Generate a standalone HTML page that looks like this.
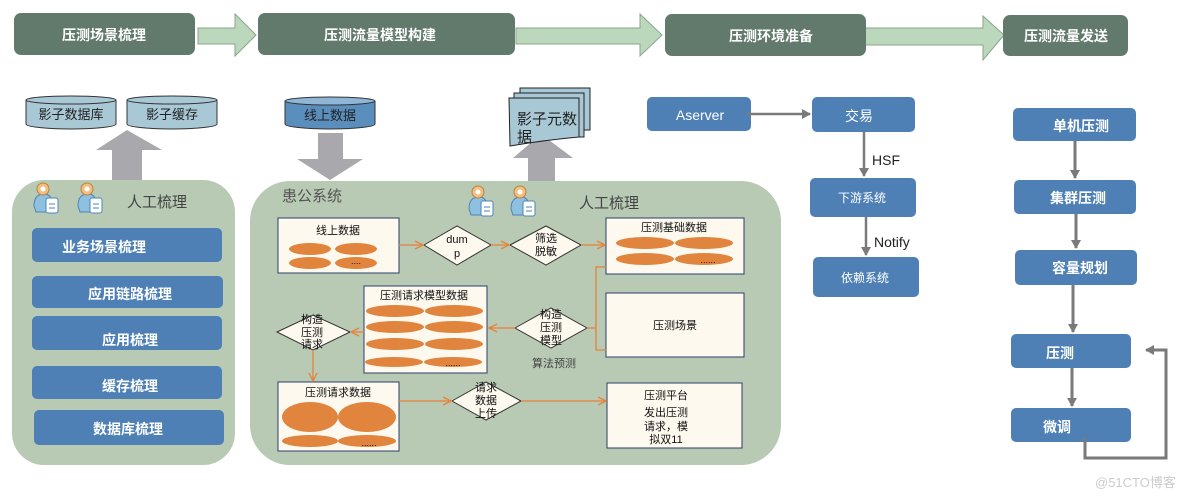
<!DOCTYPE html>
<html><head><meta charset="utf-8"><style>
html,body{margin:0;padding:0;background:#fff;width:1191px;height:498px;overflow:hidden}
svg{display:block;font-family:"Liberation Sans","Noto Sans CJK SC",sans-serif}
</style></head><body>
<svg width="1191" height="498" viewBox="0 0 1191 498" xmlns="http://www.w3.org/2000/svg">
<defs>
<marker id="og" markerWidth="10" markerHeight="10" refX="9" refY="5" orient="auto" markerUnits="userSpaceOnUse"><path d="M1,1 L9,5 L1,9" fill="none" stroke="#e8823a" stroke-width="1.3"/></marker>
<marker id="gy" markerWidth="10" markerHeight="10" refX="8" refY="5" orient="auto" markerUnits="userSpaceOnUse"><path d="M0,0 L9,5 L0,10 z" fill="#7a7a7a"/></marker>
<g id="person">
<path d="M2,24 Q2,12 12,12 Q20,12 20,22 L20,30 L4,30 Z" fill="#8fc0e0" stroke="#4a86b8" stroke-width="1"/>
<circle cx="11" cy="7" r="6" fill="#f0c080" stroke="#c08040"/>
<circle cx="11" cy="7" r="2.5" fill="#fff"/>
<rect x="14" y="16" width="12" height="15" rx="2" fill="#fff" stroke="#4a86b8"/>
<line x1="17" y1="22" x2="23" y2="22" stroke="#4a86b8"/><line x1="17" y1="26" x2="23" y2="26" stroke="#4a86b8"/>
</g>
</defs>

<!-- top banners -->
<polygon points="198,28 235,28 235,14 256,35 235,56 235,44 198,44" fill="#bcd8bc" stroke="#8aa68a"/>
<polygon points="516,28 640,28 640,14 662,35 640,56 640,44 516,44" fill="#bcd8bc" stroke="#8aa68a"/>
<polygon points="862,28 983,28 983,16 1004,35 983,60 983,45 862,45" fill="#bcd8bc" stroke="#8aa68a"/>
<rect x="14" y="13" width="181" height="42" rx="7" fill="#627a6c"/>
<rect x="258" y="13" width="257" height="42" rx="7" fill="#627a6c"/>
<rect x="665" y="14" width="201" height="42" rx="7" fill="#627a6c"/>
<rect x="1003" y="15" width="125" height="41" rx="7" fill="#627a6c"/>
<g fill="#fff" font-size="14" font-weight="bold" text-anchor="middle">
<text x="104" y="40">压测场景梳理</text>
<text x="380" y="40">压测流量模型构建</text>
<text x="771" y="41">压测环境准备</text>
<text x="1066" y="41">压测流量发送</text>
</g>

<!-- left cylinders -->
<g stroke="#333" stroke-width="1" fill="#a9c8d6">
<path d="M26,100 L26,124 A45,5 0 0 0 116,124 L116,100"/>
<ellipse cx="71" cy="100" rx="45" ry="4"/>
<path d="M127,100 L127,124 A45,5 0 0 0 217,124 L217,100"/>
<ellipse cx="172" cy="100" rx="45" ry="4"/>
<path d="M285,101 L285,124 A45,5 0 0 0 375,124 L375,101" fill="#5a8ebd"/>
<ellipse cx="330" cy="101" rx="45" ry="4" fill="#8fb6d6"/>
</g>
<g font-size="13" fill="#222" text-anchor="middle">
<text x="71" y="119">影子数据库</text><text x="172" y="119">影子缓存</text><text x="330" y="120">线上数据</text>
</g>
<!-- gray arrows -->
<polygon points="112,180 142,180 142,150 162,150 127,130 96,150 112,150" fill="#a9a9ad"/>
<polygon points="318,133 343,133 343,159 363,159 330,180 297,159 318,159" fill="#a9a9ad"/>
<polygon points="528,182 555,182 555,158 573,158 541,134 513,158 528,158" fill="#a9a9ad"/>
<!-- doc -->
<g stroke="#222" stroke-width="1" fill="#a9c8d6">
<path d="M520,88 L590,88 L590,130 L520,130Z"/>
<path d="M514,93 L584,93 L584,137 L514,137Z"/>
<path d="M509,98 L579,98 L579,137 Q545,140 510,146 Z"/>
</g>
<text x="517" y="124" font-size="15" fill="#222">影子元数</text>
<text x="517" y="142" font-size="15" fill="#222">据</text>

<!-- left panel -->
<rect x="12" y="180" width="223" height="285" rx="32" fill="#b8c9b4"/>
<use href="#person" x="32" y="182"/><use href="#person" x="76" y="182"/>
<text x="127" y="207" font-size="15" fill="#444">人工梳理</text>
<g fill="#4e80b6">
<rect x="32" y="228" width="190" height="34" rx="5"/>
<rect x="32" y="276" width="191" height="32" rx="5"/>
<rect x="32" y="316" width="190" height="34" rx="5"/>
<rect x="32" y="366" width="190" height="33" rx="5"/>
<rect x="34" y="410" width="190" height="35" rx="5"/>
</g>
<g fill="#fff" font-size="14" font-weight="bold" text-anchor="middle">
<text x="104" y="252">业务场景梳理</text>
<text x="130" y="299">应用链路梳理</text>
<text x="130" y="345">应用梳理</text>
<text x="130" y="391">缓存梳理</text>
<text x="128" y="434">数据库梳理</text>
</g>

<!-- middle panel -->
<rect x="250" y="181" width="531" height="284" rx="40" fill="#b8c9b4"/>
<text x="282" y="201" font-size="15" fill="#555">患公系统</text>
<use href="#person" x="467" y="185"/><use href="#person" x="509" y="185"/>
<text x="579" y="208" font-size="15" fill="#444">人工梳理</text>

<g stroke="#2b3f6a" stroke-width="1" fill="#fdf9ee">
<rect x="278" y="218" width="121" height="55"/>
<rect x="606" y="218" width="138" height="56"/>
<rect x="606" y="293" width="138" height="64"/>
<rect x="364" y="286" width="123" height="87"/>
<rect x="278" y="382" width="121" height="69"/>
<rect x="607" y="383" width="135" height="65"/>
</g>
<g fill="#e0843e">
<ellipse cx="310" cy="249" rx="21" ry="6"/><ellipse cx="356" cy="249" rx="21" ry="6"/>
<ellipse cx="310" cy="263" rx="21" ry="6"/><ellipse cx="356" cy="263" rx="21" ry="6"/>
<ellipse cx="645" cy="243" rx="29" ry="6"/><ellipse cx="704" cy="243" rx="29" ry="6"/>
<ellipse cx="645" cy="259" rx="29" ry="6"/><ellipse cx="704" cy="259" rx="29" ry="6"/>
<ellipse cx="395" cy="311" rx="29" ry="6"/><ellipse cx="454" cy="311" rx="29" ry="6"/>
<ellipse cx="395" cy="327" rx="29" ry="6"/><ellipse cx="454" cy="327" rx="29" ry="6"/>
<ellipse cx="395" cy="344" rx="29" ry="6"/><ellipse cx="454" cy="344" rx="29" ry="6"/>
<ellipse cx="394" cy="362" rx="29" ry="5"/><ellipse cx="453" cy="362" rx="29" ry="5"/>
<ellipse cx="310" cy="417" rx="28" ry="15"/><ellipse cx="367" cy="417" rx="29" ry="15"/>
<ellipse cx="310" cy="441" rx="28" ry="6"/><ellipse cx="367" cy="441" rx="29" ry="6"/>
</g>
<g font-size="11" fill="#111" text-anchor="middle">
<text x="338" y="234">线上数据</text>
<text x="356" y="264" font-size="9">....</text>
<text x="674" y="231">压测基础数据</text>
<text x="708" y="263" font-size="9">......</text>
<text x="675" y="329">压测场景</text>
<text x="424" y="299">压测请求模型数据</text>
<text x="453" y="366" font-size="9">......</text>
<text x="338" y="396">压测请求数据</text>
<text x="369" y="446" font-size="9">......</text>
<text x="666" y="399">压测平台</text>
<text x="666" y="416">发出压测</text>
<text x="666" y="430">请求，模</text>
<text x="666" y="443">拟双11</text>
<text x="554" y="367" fill="#444">算法预测</text>
</g>
<!-- diamonds -->
<g stroke="#333" stroke-width="1" fill="#fdf9ee">
<polygon points="424,245 457,226 491,245 457,265"/>
<polygon points="510,245 546,226 581,245 546,265"/>
<polygon points="515,328 551,308 587,328 551,348"/>
<polygon points="277,332 313,315 350,332 313,350"/>
<polygon points="452,401 486,382 521,401 486,420"/>
</g>
<g font-size="11" fill="#111" text-anchor="middle">
<text x="457" y="243">dum</text><text x="457" y="257">p</text>
<text x="546" y="242">筛选</text><text x="546" y="255">脱敏</text>
<text x="551" y="318">构造</text><text x="551" y="331">压测</text><text x="551" y="344">模型</text>
<text x="312" y="323">构造</text><text x="312" y="336">压测</text><text x="312" y="348">请求</text>
<text x="486" y="391">请求</text><text x="486" y="404">数据</text><text x="486" y="417">上传</text>
</g>
<!-- orange connectors -->
<g stroke="#e8823a" stroke-width="1.3" fill="none">
<line x1="399" y1="245" x2="423" y2="245" marker-end="url(#og)"/>
<line x1="491" y1="245" x2="509" y2="245" marker-end="url(#og)"/>
<line x1="581" y1="245" x2="605" y2="245" marker-end="url(#og)"/>
<path d="M606,267 L596,267 L596,350 L606,350"/>
<line x1="587" y1="328" x2="596" y2="328"/>
<line x1="515" y1="328" x2="489" y2="328" marker-end="url(#og)"/>
<line x1="364" y1="332" x2="351" y2="332" marker-end="url(#og)"/>
<line x1="313" y1="350" x2="313" y2="381" marker-end="url(#og)"/>
<line x1="399" y1="401" x2="451" y2="401" marker-end="url(#og)"/>
<line x1="521" y1="401" x2="606" y2="401" marker-end="url(#og)"/>
</g>

<!-- env prep -->
<g fill="#4e80b6">
<rect x="647" y="97" width="104" height="34" rx="5"/>
<rect x="812" y="97" width="103" height="35" rx="5"/>
<rect x="810" y="178" width="106" height="39" rx="5"/>
<rect x="813" y="257" width="106" height="40" rx="5"/>
</g>
<g fill="#fff" text-anchor="middle">
<text x="700" y="120" font-size="14">Aserver</text>
<text x="859" y="121" font-size="14">交易</text>
<text x="862" y="202" font-size="12">下游系统</text>
<text x="865" y="282" font-size="12">依赖系统</text>
</g>
<g stroke="#7a7a7a" stroke-width="2.5">
<line x1="746" y1="114" x2="810" y2="114" marker-end="url(#gy)"/>
<line x1="864" y1="132" x2="864" y2="176" marker-end="url(#gy)"/>
<line x1="866" y1="217" x2="866" y2="255" marker-end="url(#gy)"/>
</g>
<text x="872" y="165" font-size="14" fill="#222">HSF</text>
<text x="874" y="247" font-size="14" fill="#222">Notify</text>

<!-- send -->
<g fill="#4e80b6">
<rect x="1013" y="108" width="123" height="33" rx="5"/>
<rect x="1014" y="180" width="122" height="34" rx="5"/>
<rect x="1015" y="250" width="122" height="35" rx="5"/>
<rect x="1011" y="334" width="120" height="34" rx="5"/>
<rect x="1011" y="408" width="120" height="34" rx="5"/>
</g>
<g fill="#fff" font-size="14" font-weight="bold" text-anchor="middle">
<text x="1081" y="131">单机压测</text>
<text x="1078" y="203">集群压测</text>
<text x="1080" y="273">容量规划</text>
<text x="1060" y="358">压测</text>
<text x="1057" y="432">微调</text>
</g>
<g stroke="#7a7a7a" stroke-width="3" fill="none">
<line x1="1075" y1="141" x2="1075" y2="178" marker-end="url(#gy)"/>
<line x1="1076" y1="214" x2="1076" y2="248" marker-end="url(#gy)"/>
<line x1="1073" y1="285" x2="1073" y2="332" marker-end="url(#gy)"/>
<line x1="1072" y1="368" x2="1072" y2="406" marker-end="url(#gy)"/>
<path d="M1085,438 L1085,458 L1166,458 L1166,350 L1146,350" marker-end="url(#gy)"/>
</g>
<text x="1095" y="487" font-size="13" fill="#ccc">@51CTO博客</text>
</svg>
</body></html>
